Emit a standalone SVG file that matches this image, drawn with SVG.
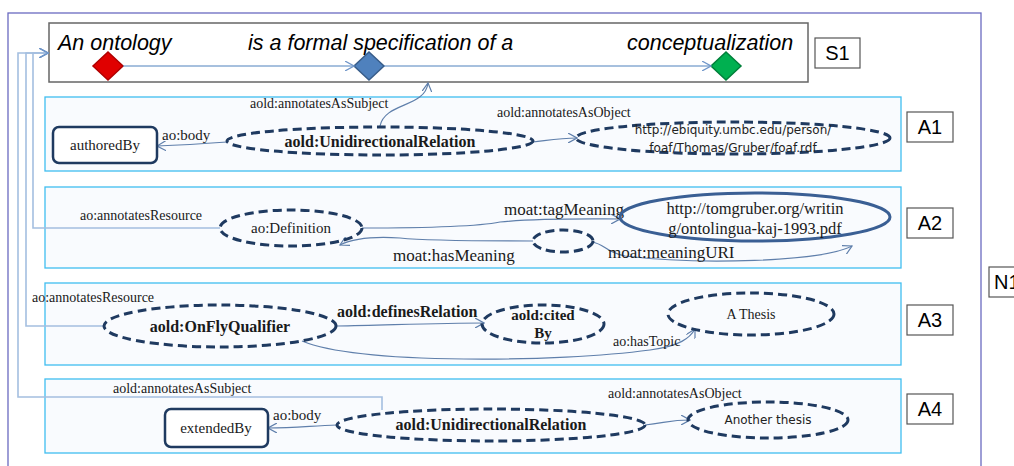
<svg xmlns="http://www.w3.org/2000/svg" width="1014" height="466" viewBox="0 0 1014 466">
<style>
.panel{fill:#f9fbfe;stroke:#3fbdf0;stroke-width:1.3}
.lbl{fill:#fff;stroke:#555;stroke-width:1.2}
.lblt{font-family:"Liberation Sans",Arial,sans-serif;font-size:20px;fill:#000}
.it{font-family:"Liberation Sans",Arial,sans-serif;font-style:italic;font-size:21.5px;fill:#000}
.dash{fill:none;stroke:#1f3a60;stroke-width:3;stroke-dasharray:9,5}
.rr{fill:#fff;stroke:#1f3a60;stroke-width:2.5}
.sr{font-family:"Liberation Serif","Times New Roman",serif;font-size:14px;fill:#1a1a1a}
.sb{font-family:"Liberation Serif","Times New Roman",serif;font-size:16px;font-weight:bold;fill:#1a1a1a}
.ss{font-family:"DejaVu Sans",Verdana,sans-serif;font-size:12px;fill:#222}
.c{fill:none;stroke:#5f7fab;stroke-width:1.2}
.cl{fill:none;stroke:#a4bfe0;stroke-width:1.6}
.cs{fill:none;stroke:#4f81bd;stroke-width:1}
</style>
<defs>
<marker id="ah" viewBox="0 0 10 10" refX="9" refY="5" markerWidth="10" markerHeight="10" markerUnits="userSpaceOnUse" orient="auto">
<path d="M0,0 L9,5 L0,10" fill="none" stroke="#5f7fab" stroke-width="1.2"/>
</marker>
<marker id="ahl" viewBox="0 0 10 10" refX="9" refY="5" markerWidth="10" markerHeight="10" markerUnits="userSpaceOnUse" orient="auto">
<path d="M0,0 L9,5 L0,10" fill="none" stroke="#6f95c8" stroke-width="1.2"/>
</marker>
</defs>
<rect width="1014" height="466" fill="#fff"/>
<rect x="8" y="13" width="973" height="470" fill="none" stroke="#6a6ac0" stroke-width="1.3"/>

<g id="S1">
<rect x="49" y="23" width="759" height="59" fill="#fff" stroke="#666" stroke-width="1.5"/>
<text class="it" x="58" y="50">An ontology</text>
<text class="it" x="248" y="50">is a formal specification of a</text>
<text class="it" x="627" y="50">conceptualization</text>
<path d="M108,52 L123,66 L108,80 L93,66 Z" fill="#e00000" stroke="#b00000" stroke-width="1.5"/>
<path d="M369,52 L384,66 L369,80 L354,66 Z" fill="#4f81bd" stroke="#385d8a" stroke-width="1.5"/>
<path d="M726,52 L741,66 L726,80 L711,66 Z" fill="#00b050" stroke="#00803a" stroke-width="1.5"/>
</g>
<g id="S1-label"><rect class="lbl" x="815" y="38" width="45" height="30"/><text class="lblt" x="837.5" y="60" text-anchor="middle">S1</text></g>
<g id="N1-label"><rect class="lbl" x="989" y="267" width="40" height="30"/><text class="lblt" x="994" y="289">N1</text></g>

<g id="A1-panel"><rect class="panel" x="45" y="97" width="856" height="74"/></g>
<g id="A2-panel"><rect class="panel" x="45" y="187" width="856" height="81"/></g>
<g id="A3-panel"><rect class="panel" x="45" y="283" width="856" height="82"/></g>
<g id="A4-panel"><rect class="panel" x="45" y="379" width="856" height="74"/></g>
<g id="A1-label"><rect class="lbl" x="907" y="112" width="46" height="30"/><text class="lblt" x="930" y="134" text-anchor="middle">A1</text></g>
<g id="A2-label"><rect class="lbl" x="907" y="208" width="46" height="30"/><text class="lblt" x="930" y="230" text-anchor="middle">A2</text></g>
<g id="A3-label"><rect class="lbl" x="907" y="305" width="46" height="30"/><text class="lblt" x="930" y="327" text-anchor="middle">A3</text></g>
<g id="A4-label"><rect class="lbl" x="907" y="394" width="46" height="30"/><text class="lblt" x="930" y="416" text-anchor="middle">A4</text></g>

<g id="connectors">
<path class="cs" d="M123,66 H354" marker-end="url(#ahl)"/>
<path class="cs" d="M384,66 H711" marker-end="url(#ahl)"/>
<path class="cl" d="M220,228 H33 V53 H48" marker-end="url(#ahl)"/>
<path class="cl" d="M104,326 H26 V53 H48" marker-end="url(#ahl)"/>
<path class="cl" d="M382,410 V397 H18 V53 H48" marker-end="url(#ahl)"/>
<path class="c" d="M380,126 C385,102 425,108 428,83" marker-end="url(#ah)"/>
<path class="c" d="M227,142 C200,144 185,145 157,146" marker-end="url(#ah)"/>
<path class="c" d="M533,142 C550,140 560,138 577,138" marker-end="url(#ah)"/>
<path class="c" d="M362,228 C420,228 480,226 500,222 C540,218 590,219 620,219" marker-end="url(#ah)"/>
<path class="c" d="M533,241 C460,241 420,240 400,238 C370,236 350,240 340,245" marker-end="url(#ah)"/>
<path class="c" d="M592,242 C605,244 605,252 625,256 C700,265 820,262 852,246" marker-end="url(#ah)"/>
<path class="c" d="M337,326 C390,325 440,323 484,323" marker-end="url(#ah)"/>
<path class="c" d="M302,341 C360,365 560,362 650,350 C680,346 690,338 695,329" marker-end="url(#ah)"/>
<path class="c" d="M337,425 C310,426 295,428 268,428" marker-end="url(#ah)"/>
<path class="c" d="M645,425 C665,423 670,420 690,420" marker-end="url(#ah)"/>
</g>

<g id="S1-conn-labels">
<text class="sr" x="250" y="108">aold:annotatesAsSubject</text>
<text class="sr" x="497" y="117">aold:annotatesAsObject</text>
<text class="sr" x="162" y="140" style="font-size:15px">ao:body</text>
<text class="sr" x="80" y="220">ao:annotatesResource</text>
<text class="sr" x="504" y="215" style="font-size:17px">moat:tagMeaning</text>
<text class="sr" x="393" y="261" style="font-size:17px">moat:hasMeaning</text>
<text class="sr" x="608" y="258" style="font-size:17px">moat:meaningURI</text>
<text class="sr" x="32" y="302">ao:annotatesResource</text>
<text class="sb" x="337" y="317">aold:definesRelation</text>
<text class="sr" x="613" y="346">ao:hasTopic</text>
<text class="sr" x="113" y="393">aold:annotatesAsSubject</text>
<text class="sr" x="273" y="420" style="font-size:15px">ao:body</text>
<text class="sr" x="608" y="398">aold:annotatesAsObject</text>
</g>

<g id="authoredBy"><rect class="rr" x="53" y="127" width="104" height="36" rx="6"/><text class="sr" x="105" y="150" text-anchor="middle" style="font-size:15px">authoredBy</text></g>
<g id="A1-relation"><ellipse class="dash" cx="380" cy="141" rx="153" ry="14"/><text class="sb" x="380" y="147" text-anchor="middle">aold:UnidirectionalRelation</text></g>
<g id="A1-object"><ellipse class="dash" cx="733" cy="138" rx="157" ry="16"/><text class="ss" x="733" y="134" text-anchor="middle">http://ebiquity.umbc.edu/person/</text><text class="ss" x="733" y="152" text-anchor="middle">foaf/Thomas/Gruber/foaf.rdf</text></g>

<g id="ao-Definition"><ellipse class="dash" cx="291" cy="228" rx="71" ry="18"/><text class="sr" x="291" y="233" text-anchor="middle" style="font-size:15px">ao:Definition</text></g>
<g id="tomgruber"><ellipse cx="755" cy="217" rx="135" ry="24" fill="none" stroke="#3a5f94" stroke-width="3"/><text class="sr" x="755" y="214" text-anchor="middle" style="font-size:16.5px">http://tomgruber.org/writin</text><text class="sr" x="755" y="234" text-anchor="middle" style="font-size:16.5px">g/ontolingua-kaj-1993.pdf</text></g>
<g id="meaning"><ellipse class="dash" cx="563" cy="241" rx="30" ry="11"/></g>

<g id="OnFlyQualifier"><ellipse class="dash" cx="220" cy="326" rx="116" ry="21"/><text class="sb" x="220" y="332" text-anchor="middle">aold:OnFlyQualifier</text></g>
<g id="citedBy"><ellipse class="dash" cx="543" cy="324" rx="61" ry="19"/><text class="sb" x="543" y="320" text-anchor="middle" style="font-size:15px">aold:cited</text><text class="sb" x="543" y="338" text-anchor="middle" style="font-size:15px">By</text></g>
<g id="A-Thesis"><ellipse class="dash" cx="751" cy="314" rx="83" ry="21"/><text class="sr" x="751" y="319" text-anchor="middle">A Thesis</text></g>

<g id="extendedBy"><rect class="rr" x="165" y="409" width="103" height="38" rx="6"/><text class="sr" x="216" y="433" text-anchor="middle" style="font-size:15px">extendedBy</text></g>
<g id="A4-relation"><ellipse class="dash" cx="491" cy="425" rx="154" ry="16"/><text class="sb" x="491" y="430" text-anchor="middle">aold:UnidirectionalRelation</text></g>
<g id="Another-thesis"><ellipse class="dash" cx="768" cy="420" rx="80" ry="18"/><text class="ss" x="768" y="424" text-anchor="middle">Another thesis</text></g>
</svg>
